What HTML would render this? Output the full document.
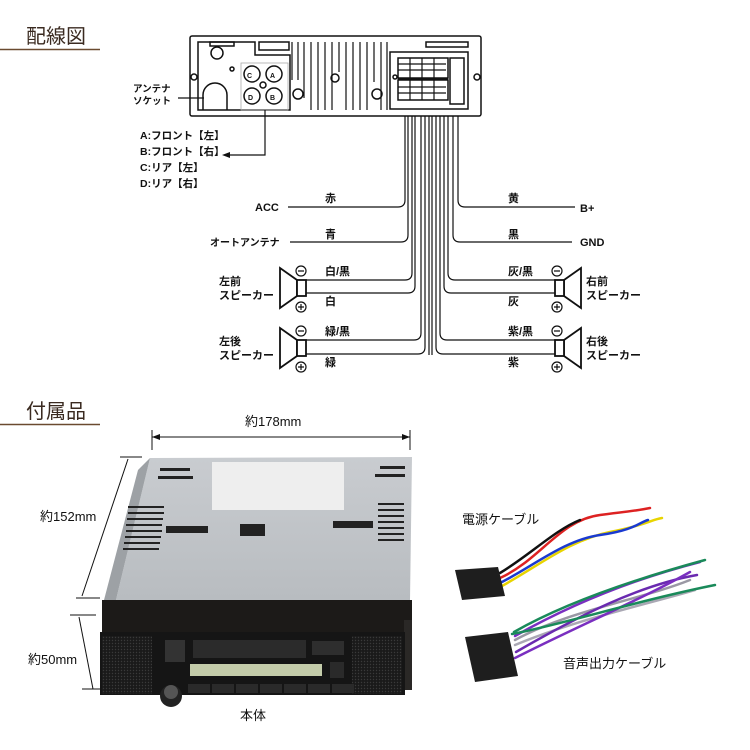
<!DOCTYPE html>
<html><head><meta charset="utf-8"><style>
body{margin:0;background:#fff}
svg{display:block}
text{font-family:"Liberation Sans","Noto Sans CJK JP",sans-serif;fill:#111}
</style></head><body>
<svg width="750" height="750" viewBox="0 0 750 750" xmlns="http://www.w3.org/2000/svg">
<defs>
<pattern id="grill" width="3" height="3" patternUnits="userSpaceOnUse"><rect width="3" height="3" fill="#1a1a1a"/><circle cx="1.5" cy="1.5" r="0.7" fill="#3a3a3a"/></pattern>
<linearGradient id="top" x1="0" y1="0" x2="0" y2="1"><stop offset="0" stop-color="#c9ccd0"/><stop offset="1" stop-color="#b8bcc0"/></linearGradient>
</defs>
<!-- headings -->
<text x="26" y="43" font-size="20" style="fill:#3a2a20">配線図</text>
<line x1="0" y1="49.5" x2="100" y2="49.5" stroke="#6a4a30" stroke-width="1.5"/>
<text x="26" y="418" font-size="20" style="fill:#3a2a20">付属品</text>
<line x1="0" y1="424.5" x2="100" y2="424.5" stroke="#6a4a30" stroke-width="1.5"/>

<!-- rear panel -->
<g fill="none" stroke="#111" stroke-width="1.5">
<rect x="190" y="36" width="291" height="80" rx="2"/>
<path d="M198 42 H255 V55 H290 V110 H198 Z"/>
<rect x="210" y="42" width="24" height="4"/>
<rect x="259" y="42" width="30" height="8"/>
<circle cx="217" cy="53" r="6"/>
<circle cx="194" cy="77" r="3"/><circle cx="477" cy="77" r="3"/>
<path d="M203 110 V95 A12 12 0 0 1 227 95 V110"/>
<circle cx="252" cy="74" r="8"/><circle cx="274" cy="74" r="8"/>
<circle cx="252" cy="96" r="8"/><circle cx="274" cy="96" r="8"/>
<circle cx="263" cy="85" r="3"/><circle cx="232" cy="69" r="2"/>
<rect x="426" y="42" width="42" height="5"/>
<rect x="390" y="52" width="78" height="57"/>
<rect x="398" y="58" width="50" height="20"/><rect x="398" y="80" width="50" height="20"/>
<rect x="450" y="58" width="14" height="46"/>
<circle cx="395" cy="77" r="2"/>
<circle cx="298" cy="94" r="5"/><circle cx="377" cy="94" r="5"/>
<circle cx="335" cy="78" r="4"/>
</g>
<rect x="241" y="63" width="47" height="47" fill="none" stroke="#aaa" stroke-width="0.8"/>
<g stroke="#111" stroke-width="1.2" fill="none">
<path d="M292 42 v38 M298 42 v38 M304 42 v56 M311 42 v68 M318 42 v68 M325 42 v68 M332 42 v68 M339 42 v30 M346 42 v68 M353 42 v68 M360 42 v68 M367 42 v68 M374 42 v40 M381 42 v68 M387 42 v68"/>
<path d="M398 64 h48 M398 70 h48 M398 87 h48 M398 93 h48 M410 58 v42 M422 58 v42 M434 58 v42"/>
</g>
<line x1="398" y1="79" x2="448" y2="79" stroke="#111" stroke-width="2.5"/>
<text x="247" y="78" font-size="7" font-weight="bold">C</text>
<text x="270" y="78" font-size="7" font-weight="bold">A</text>
<text x="248" y="100" font-size="7" font-weight="bold">D</text>
<text x="270" y="100" font-size="7" font-weight="bold">B</text>
<!-- antenna label -->
<text x="133" y="92" font-size="9.5" font-weight="bold">アンテナ</text>
<text x="133" y="104" font-size="9.5" font-weight="bold">ソケット</text>
<line x1="178" y1="98" x2="204" y2="98" stroke="#111" stroke-width="1.2"/>
<!-- ABCD -->
<path d="M265 110 V155 H230" stroke="#111" stroke-width="1.2" fill="none"/>
<path d="M222 155 l8 -3 v6 z" fill="#111"/>
<g font-size="10.5" font-weight="bold">
<text x="140" y="139">A:フロント【左】</text>
<text x="140" y="155">B:フロント【右】</text>
<text x="140" y="171">C:リア【左】</text>
<text x="140" y="187">D:リア【右】</text>
</g>
<!-- wires -->
<g stroke="#111" stroke-width="1.2" fill="none">
<path d="M405 116 V200 q0 7 -7 7 H288"/>
<path d="M408 116 V235 q0 7 -7 7 H290"/>
<path d="M412 116 V273 q0 7 -7 7 H306"/>
<path d="M415 116 V286 q0 7 -7 7 H306"/>
<path d="M421 116 V333 q0 7 -7 7 H306"/>
<path d="M425 116 V347 q0 7 -7 7 H306"/>
<path d="M429 116 V355"/><path d="M432 116 V355"/>
<path d="M436 116 V347 q0 7 7 7 H556"/>
<path d="M440 116 V333 q0 7 7 7 H556"/>
<path d="M444 116 V286 q0 7 7 7 H556"/>
<path d="M448 116 V273 q0 7 7 7 H556"/>
<path d="M453 116 V235 q0 7 7 7 H572"/>
<path d="M458 116 V200 q0 7 7 7 H575"/>
</g>
<g font-size="11" font-weight="bold">
<text x="255" y="211">ACC</text>
<text x="210" y="246" font-size="10">オートアンテナ</text>
<text x="580" y="212">B+</text>
<text x="580" y="246">GND</text>
<text x="325" y="202">赤</text><text x="325" y="238">青</text>
<text x="325" y="275">白/黒</text><text x="325" y="305">白</text>
<text x="325" y="335">緑/黒</text><text x="325" y="366">緑</text>
<text x="508" y="202">黄</text><text x="508" y="238">黒</text>
<text x="508" y="275">灰/黒</text><text x="508" y="305">灰</text>
<text x="508" y="335">紫/黒</text><text x="508" y="366">紫</text>
<text x="219" y="285">左前</text><text x="219" y="299">スピーカー</text>
<text x="219" y="345">左後</text><text x="219" y="359">スピーカー</text>
<text x="586" y="285">右前</text><text x="586" y="299">スピーカー</text>
<text x="586" y="345">右後</text><text x="586" y="359">スピーカー</text>
</g>
<!-- speakers -->
<g stroke="#111" stroke-width="1.8" fill="#fff">
<path d="M280 268 L297 280 V296 L280 308 Z"/><rect x="297" y="280" width="9" height="16"/>
<path d="M280 328 L297 340 V356 L280 368 Z"/><rect x="297" y="340" width="9" height="16"/>
<path d="M581 268 L564 280 V296 L581 308 Z"/><rect x="555" y="280" width="9" height="16"/>
<path d="M581 328 L564 340 V356 L581 368 Z"/><rect x="555" y="340" width="9" height="16"/>
</g>
<g stroke="#111" stroke-width="1.2" fill="none">
<circle cx="301" cy="271" r="5"/><circle cx="301" cy="307" r="5"/>
<circle cx="301" cy="331" r="5"/><circle cx="301" cy="367" r="5"/>
<circle cx="557" cy="271" r="5"/><circle cx="557" cy="307" r="5"/>
<circle cx="557" cy="331" r="5"/><circle cx="557" cy="367" r="5"/>
<path d="M298 271h6M298 307h6M301 304v6M298 331h6M298 367h6M301 364v6M554 271h6M554 307h6M557 304v6M554 331h6M554 367h6M557 364v6"/>
</g>

<!-- dimension lines -->
<g stroke="#111" stroke-width="1">
<line x1="152" y1="437" x2="410" y2="437"/>
<line x1="152" y1="430" x2="152" y2="450"/><line x1="410" y1="430" x2="410" y2="450"/>
<line x1="128" y1="459" x2="82" y2="596"/>
<line x1="120" y1="457" x2="142" y2="457"/><line x1="76" y1="598" x2="100" y2="598"/>
<line x1="79" y1="617" x2="93" y2="689"/>
<line x1="70" y1="615" x2="96" y2="615"/><line x1="82" y1="689" x2="107" y2="689"/>
</g>
<path d="M152 437 l8 -3 v6z M410 437 l-8 -3 v6z" fill="#111"/>
<text x="245" y="426" font-size="13">約178mm</text>
<text x="40" y="521" font-size="13">約152mm</text>
<text x="28" y="664" font-size="13">約50mm</text>
<text x="240" y="720" font-size="13">本体</text>

<!-- unit photo -->
<polygon points="150,458 412,457 410,600 116,600" fill="url(#top)"/>
<polygon points="150,458 116,600 104,600 138,470" fill="#9da1a5"/>
<rect x="212" y="462" width="132" height="48" fill="#eee"/>
<g fill="#222">
<rect x="160" y="468" width="30" height="3"/><rect x="158" y="476" width="35" height="3"/>
<rect x="380" y="466" width="25" height="3"/><rect x="375" y="474" width="30" height="3"/>
<rect x="128" y="506" width="36" height="2"/><rect x="128" y="512" width="36" height="2"/><rect x="127" y="518" width="36" height="2"/><rect x="126" y="524" width="36" height="2"/><rect x="126" y="530" width="36" height="2"/><rect x="125" y="536" width="36" height="2"/><rect x="124" y="542" width="36" height="2"/><rect x="123" y="548" width="36" height="2"/>
<rect x="378" y="503" width="26" height="2"/><rect x="378" y="509" width="26" height="2"/><rect x="378" y="515" width="26" height="2"/><rect x="378" y="521" width="26" height="2"/><rect x="378" y="527" width="26" height="2"/><rect x="378" y="533" width="26" height="2"/><rect x="378" y="539" width="26" height="2"/>
<rect x="166" y="526" width="42" height="7"/><rect x="240" y="524" width="25" height="12"/><rect x="333" y="521" width="40" height="7"/>
</g>
<rect x="102" y="600" width="310" height="32" fill="#1c1a18"/>
<rect x="404" y="620" width="8" height="70" fill="#2a2826"/>
<rect x="100" y="632" width="305" height="63" fill="#151515"/>
<rect x="102" y="636" width="50" height="58" fill="url(#grill)"/>
<rect x="352" y="636" width="50" height="58" fill="url(#grill)"/>
<rect x="193" y="640" width="113" height="18" fill="#2b2b2b"/>
<rect x="165" y="640" width="20" height="22" fill="#333"/>
<rect x="312" y="641" width="32" height="14" fill="#2e2e2e"/>
<rect x="190" y="664" width="132" height="12" fill="#c4ccaa"/>
<rect x="330" y="662" width="14" height="16" fill="#2a2a2a"/>
<g fill="#2a2a2a"><rect x="188" y="684" width="22" height="9"/><rect x="212" y="684" width="22" height="9"/><rect x="236" y="684" width="22" height="9"/><rect x="260" y="684" width="22" height="9"/><rect x="284" y="684" width="22" height="9"/><rect x="308" y="684" width="22" height="9"/><rect x="332" y="684" width="22" height="9"/></g>
<circle cx="171" cy="696" r="11" fill="#222"/><circle cx="171" cy="692" r="7" fill="#555"/>

<!-- power cable -->
<g fill="none" stroke-width="2.5" stroke-linecap="round">
<path d="M500 578 C540 560 560 520 600 515 S640 510 650 508" stroke="#d22"/>
<path d="M500 573 C530 555 555 530 580 520" stroke="#111"/>
<path d="M502 586 C540 565 570 540 610 532 S650 520 662 518" stroke="#e8d400"/>
<path d="M502 582 C535 565 565 540 600 535 S640 522 648 520" stroke="#1a3ad0"/>
</g>
<path d="M455 570 L498 567 L505 596 L462 600 Z" fill="#1e1e1e"/>
<!-- audio cable -->
<g fill="none" stroke-width="2.5" stroke-linecap="round">
<path d="M515 640 C570 610 640 600 690 580" stroke="#9a98a4"/>
<path d="M515 645 C575 620 640 606 695 590" stroke="#aaa8b4"/>
<path d="M515 636 C570 605 630 580 700 562" stroke="#7a2fc0"/>
<path d="M516 652 C580 615 640 585 697 575" stroke="#6a2ab0"/>
<path d="M515 658 C580 625 640 600 690 572" stroke="#7a2fc0"/>
<path d="M512 634 C560 625 640 600 715 585" stroke="#1a8a5a"/>
<path d="M514 632 C570 600 650 575 705 560" stroke="#1a8a5a"/>
</g>
<path d="M465 637 L508 632 L518 676 L475 682 Z" fill="#1e1e1e"/>
<text x="462" y="524" font-size="13">電源ケーブル</text>
<text x="563" y="668" font-size="13">音声出力ケーブル</text>
</svg>
</body></html>
